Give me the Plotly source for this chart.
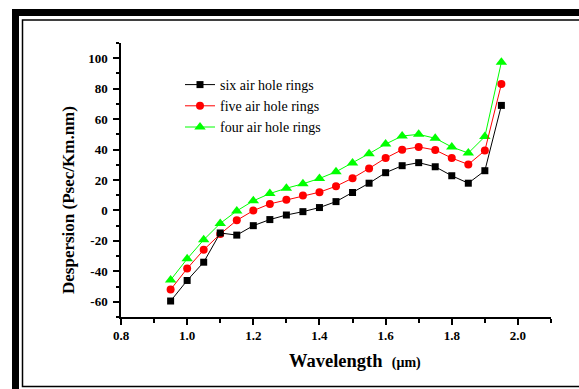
import plotly.graph_objects as go

wavelength = [0.95, 1.00, 1.05, 1.10, 1.15, 1.20, 1.25, 1.30, 1.35, 1.40, 1.45,
              1.50, 1.55, 1.60, 1.65, 1.70, 1.75, 1.80, 1.85, 1.90, 1.95]
six_rings = [-59.5, -46.0, -34.0, -14.8, -16.2, -10.0, -6.0, -3.0, -0.8, 1.9, 5.8,
             11.8, 17.9, 24.8, 29.4, 31.4, 28.7, 22.8, 17.9, 26.1, 69.0]
five_rings = [-52.0, -38.2, -25.9, -15.5, -6.5, -0.1, 4.3, 7.0, 9.8, 12.0, 15.9,
              21.2, 27.6, 34.4, 39.9, 41.7, 39.7, 34.4, 30.2, 39.3, 83.0]
four_rings = [-45.7, -31.8, -19.3, -8.5, -0.3, 6.3, 11.1, 14.6, 17.5, 21.0, 25.4,
              31.1, 37.3, 43.6, 48.9, 50.0, 47.4, 41.7, 37.7, 48.5, 97.4]

series_names = ["six air hole rings", "five air hole rings", "four air hole rings"]
x_tickvals = [0.8, 1.0, 1.2, 1.4, 1.6, 1.8, 2.0]
x_ticktext = ["0.8", "1.0", "1.2", "1.4", "1.6", "1.8", "2.0"]
y_tickvals = [-60, -40, -20, 0, 20, 40, 60, 80, 100]
y_ticktext = ["-60", "-40", "-20", "0", "20", "40", "60", "80", "100"]

SERIF = "Liberation Serif, Times New Roman, serif"

fig = go.Figure()
fig.add_trace(go.Scatter(x=wavelength, y=four_rings, name=series_names[2], mode="lines+markers",
                         line=dict(color="#00ff00", width=1),
                         marker=dict(symbol="triangle-up", size=10, color="#00ff00")))
fig.add_trace(go.Scatter(x=wavelength, y=five_rings, name=series_names[1], mode="lines+markers",
                         line=dict(color="#ff0000", width=1),
                         marker=dict(symbol="circle", size=8, color="#ff0000")))
fig.add_trace(go.Scatter(x=wavelength, y=six_rings, name=series_names[0], mode="lines+markers",
                         line=dict(color="#000000", width=1),
                         marker=dict(symbol="square", size=7, color="#000000")))

L, R, T, B = 121, 28, 43, 72
W, H = 579, 389
pw, ph = W - L - R, H - T - B


def px(x):
    return (x - L) / pw


def py(y):
    return (H - B - y) / ph


tickfont = dict(family=SERIF, size=13, color="black", weight="bold")

fig.update_layout(
    width=W, height=H,
    margin=dict(l=L, r=R, t=T, b=B),
    paper_bgcolor="white", plot_bgcolor="white",
    showlegend=True,
    legend=dict(x=px(180), y=py(69), xanchor="left", yanchor="top",
                traceorder="reversed", bgcolor="rgba(0,0,0,0)",
                font=dict(family=SERIF, size=14, color="black"),
                tracegroupgap=0),
    xaxis=dict(range=[0.8, 2.1], tickmode="array", tickvals=x_tickvals, ticktext=x_ticktext,
               ticks="outside", ticklen=6, tickwidth=1.5, tickcolor="black",
               showline=True, linecolor="black", linewidth=1.5, mirror=False,
               showgrid=False, zeroline=False, tickfont=tickfont,
               minor=dict(tickmode="linear", tick0=0.8, dtick=0.1, ticks="outside",
                          ticklen=4, tickwidth=1.5, tickcolor="black", showgrid=False)),
    yaxis=dict(range=[-70, 110], tickmode="array", tickvals=y_tickvals, ticktext=y_ticktext,
               ticks="outside", ticklen=6, tickwidth=1.5, tickcolor="black",
               showline=True, linecolor="black", linewidth=1.5, mirror=False,
               showgrid=False, zeroline=False, tickfont=tickfont, ticklabelstandoff=3,
               minor=dict(tickmode="linear", tick0=-60, dtick=10, ticks="outside",
                          ticklen=3, tickwidth=1.5, tickcolor="black", showgrid=False)),
    xaxis2=dict(range=[0.8, 2.1], overlaying="x", side="top", tickmode="array",
                tickvals=x_tickvals, showticklabels=False,
                ticks="inside", ticklen=7, tickwidth=1.5, tickcolor="black",
                showline=True, linecolor="black", linewidth=1.5,
                showgrid=False, zeroline=False,
                minor=dict(tickmode="linear", tick0=0.8, dtick=0.1, ticks="inside",
                           ticklen=4, tickwidth=1.5, tickcolor="black", showgrid=False)),
    yaxis2=dict(range=[-70, 110], overlaying="y", side="right", tickmode="array",
                tickvals=y_tickvals, showticklabels=False,
                ticks="inside", ticklen=6, tickwidth=1.5, tickcolor="black",
                showline=True, linecolor="black", linewidth=1.5,
                showgrid=False, zeroline=False,
                minor=dict(tickmode="linear", tick0=-60, dtick=10, ticks="inside",
                           ticklen=4, tickwidth=1.5, tickcolor="black", showgrid=False)),
)

# Axis titles
fig.add_annotation(xref="paper", yref="paper", x=px(355), y=py(361),
                   text="Wavelength&nbsp;&nbsp;<span style='font-size:14px'>(μm)</span>",
                   showarrow=False, xanchor="center", yanchor="middle",
                   font=dict(family=SERIF, size=18.5, color="black", weight="bold"))
fig.add_annotation(xref="paper", yref="paper", x=px(68), y=py(200),
                   text="Despersion (Psec/Km.nm)", textangle=-90,
                   showarrow=False, xanchor="center", yanchor="middle",
                   font=dict(family=SERIF, size=17, color="black", weight="bold"))

# Picture frame (thick outer, thin inner)
fig.add_shape(type="rect", xref="paper", yref="paper", layer="below",
              x0=px(15.5), y0=py(405), x1=px(620), y1=py(12.5),
              line=dict(color="black", width=7))
fig.add_shape(type="rect", xref="paper", yref="paper", layer="below",
              x0=px(22.5), y0=py(386.5), x1=px(600), y1=py(20),
              line=dict(color="black", width=1.5))

fig.write_html("out.html", config={"displayModeBar": False},
               post_script="document.body.style.margin='0px';")
